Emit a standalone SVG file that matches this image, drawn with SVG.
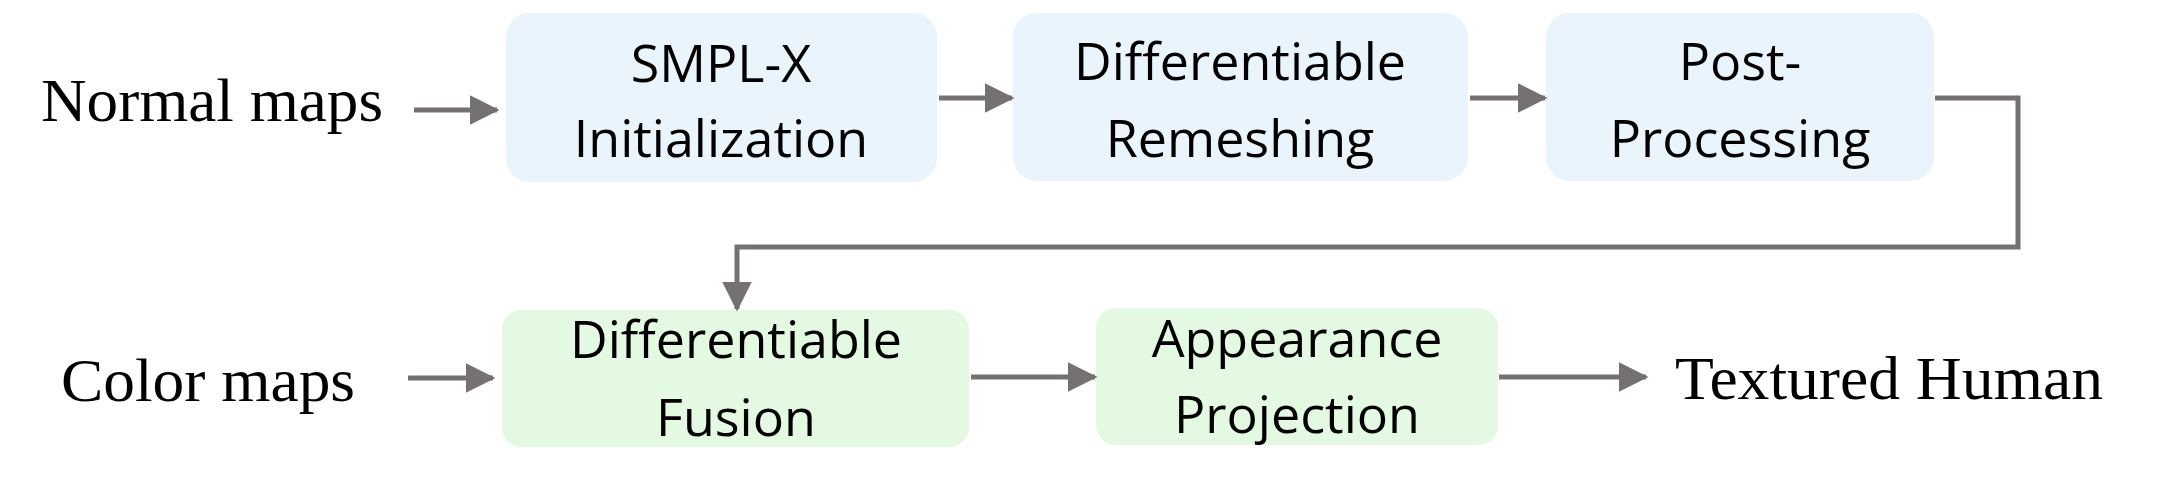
<svg xmlns="http://www.w3.org/2000/svg" width="2164" height="494" viewBox="0 0 2164 494">
<style>
.blue{fill:#EAF4FD}.green{fill:#E3F9E1}
.t{font-family:"Open Sans","Liberation Sans",sans-serif;font-size:52px;fill:#000;text-anchor:middle}
.s{font-family:"Liberation Serif",serif;font-size:62px;fill:#000}
.c{stroke:#767171;stroke-width:5;fill:none}
</style>
<defs><marker id="a" markerWidth="6" markerHeight="6" refX="5.5" refY="3" orient="auto" markerUnits="strokeWidth"><path d="M0,0L6,3L0,6z" fill="#767171"/></marker></defs>
<g id="normal"><text class="s" x="41" y="121" textLength="342" lengthAdjust="spacingAndGlyphs">Normal maps</text></g>
<g id="color"><text class="s" x="61" y="401" textLength="294" lengthAdjust="spacingAndGlyphs">Color maps</text></g>
<g id="textured"><text class="s" x="1675" y="399" textLength="428" lengthAdjust="spacingAndGlyphs">Textured Human</text></g>
<g id="smplx"><rect class="blue" x="506" y="13" width="431" height="169" rx="24"/><text class="t" x="721" y="82">SMPL-X</text><text class="t" x="721" y="157">Initialization</text></g>
<g id="remesh"><rect class="blue" x="1013" y="13" width="455" height="168" rx="24"/><text class="t" x="1240" y="80">Differentiable</text><text class="t" x="1240" y="157">Remeshing</text></g>
<g id="post"><rect class="blue" x="1546" y="13" width="388" height="168" rx="24"/><text class="t" x="1740" y="80">Post-</text><text class="t" x="1740" y="157">Processing</text></g>
<g id="fusion"><rect class="green" x="502" y="310" width="467" height="137" rx="20"/><text class="t" x="736" y="358">Differentiable</text><text class="t" x="736" y="436">Fusion</text></g>
<g id="appearance"><rect class="green" x="1096" y="308" width="402" height="137" rx="20"/><text class="t" x="1297" y="357">Appearance</text><text class="t" x="1297" y="433">Projection</text></g>
<g id="connectors">
<path class="c" marker-end="url(#a)" d="M414,110H497"/>
<path class="c" marker-end="url(#a)" d="M939,98H1012"/>
<path class="c" marker-end="url(#a)" d="M1470,98H1545"/>
<path class="c" marker-end="url(#a)" d="M1935,98H2018V247H737V309"/>
<path class="c" marker-end="url(#a)" d="M408,378H493"/>
<path class="c" marker-end="url(#a)" d="M971,377H1095"/>
<path class="c" marker-end="url(#a)" d="M1499,377H1646"/>
</g>
</svg>
